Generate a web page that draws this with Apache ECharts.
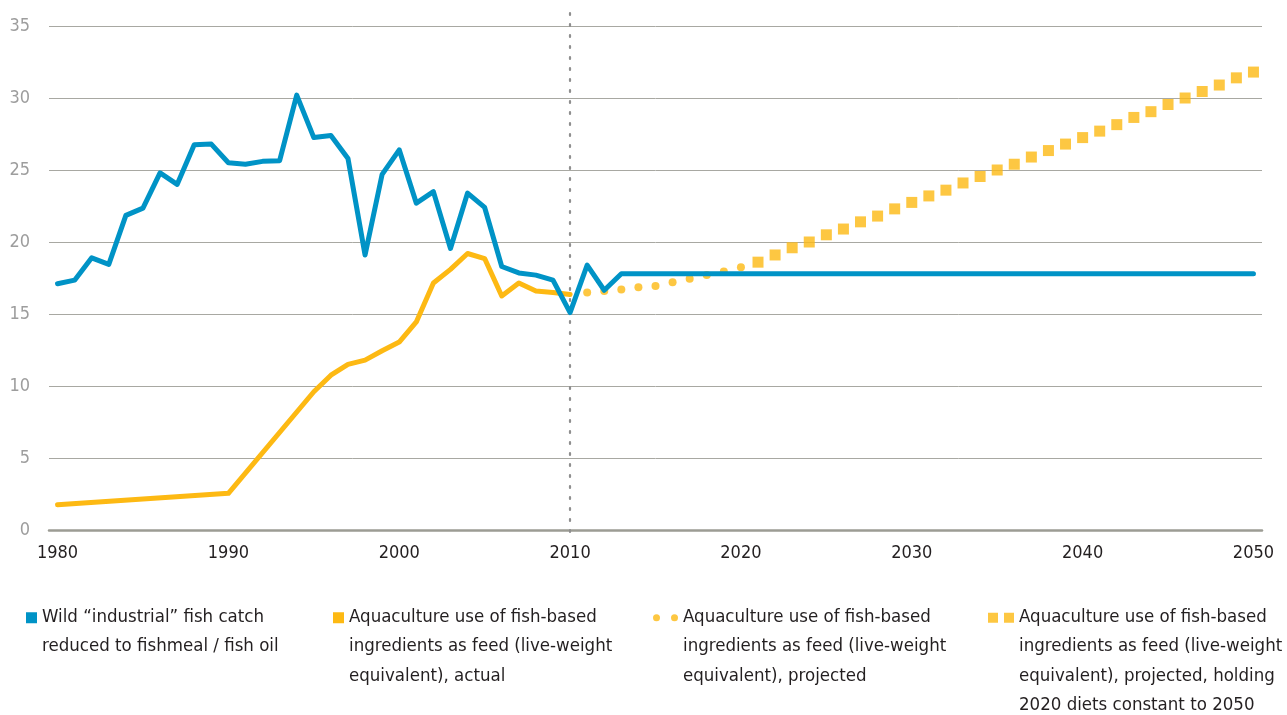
<!DOCTYPE html>
<html>
<head>
<meta charset="utf-8">
<script src="https://cdn.jsdelivr.net/npm/echarts@6/dist/echarts.min.js"></script>
<style>
  html, body { margin: 0; padding: 0; background: #ffffff; }
  #chart { width: 1287px; height: 715px; }
</style>
</head>
<body>
<div id="chart"></div>
<script>
// Category axis: one slot per year
const years = [];
for (let y = 1980; y <= 2050; y++) years.push(String(y));

// Wild "industrial" catch reduced to fishmeal / fish oil (million tonnes)
const catchYears = [1980, 1981, 1982, 1983, 1984, 1985, 1986, 1987, 1988, 1989,
  1990, 1991, 1992, 1993, 1994, 1995, 1996, 1997, 1998, 1999,
  2000, 2001, 2002, 2003, 2004, 2005, 2006, 2007, 2008, 2009,
  2010, 2011, 2012, 2013, 2050];
const catchValues = [17.1, 17.35, 18.9, 18.45, 21.85, 22.35, 24.8, 24.0, 26.75, 26.8,
  25.5, 25.4, 25.6, 25.65, 30.2, 27.25, 27.4, 25.8, 19.1, 24.7,
  26.4, 22.7, 23.5, 19.55, 23.4, 22.4, 18.3, 17.85, 17.7, 17.35,
  15.1, 18.4, 16.65, 17.8, 17.8];

// Aquaculture feed use, actual
const actualYears = [1980, 1990, 1995, 1996, 1997, 1998, 1999, 2000, 2001, 2002,
  2003, 2004, 2005, 2006, 2007, 2008, 2009, 2010];
const actualValues = [1.75, 2.55, 9.6, 10.75, 11.5, 11.8, 12.45, 13.05, 14.45, 17.15,
  18.1, 19.2, 18.85, 16.25, 17.15, 16.6, 16.5, 16.35];

// Aquaculture feed use, projected
const projectedYears = [2011, 2012, 2013, 2014, 2015, 2016, 2017, 2018, 2019, 2020];
const projectedValues = [16.5, 16.6, 16.7, 16.85, 16.95, 17.2, 17.45, 17.7, 17.95, 18.25];

// Aquaculture feed use, projected with 2020 diets held constant
const constantYears = [2021, 2022, 2023, 2024, 2025, 2026, 2027, 2028, 2029, 2030,
  2031, 2032, 2033, 2034, 2035, 2036, 2037, 2038, 2039, 2040,
  2041, 2042, 2043, 2044, 2045, 2046, 2047, 2048, 2049, 2050];
const constantValues = [18.6, 19.1, 19.6, 20.0, 20.5, 20.9, 21.4, 21.8, 22.3, 22.75,
  23.2, 23.6, 24.1, 24.55, 25.0, 25.4, 25.9, 26.35, 26.8, 27.25,
  27.7, 28.15, 28.65, 29.05, 29.55, 30.0, 30.45, 30.9, 31.4, 31.8];

const yTicks = [0, 5, 10, 15, 20, 25, 30, 35];
const divideYear = '2010';

// Series names and the wrapped lines shown in the legend
const names = [
  'Wild “industrial” fish catch reduced to fishmeal / fish oil',
  'Aquaculture use of fish-based ingredients as feed (live-weight equivalent), actual',
  'Aquaculture use of fish-based ingredients as feed (live-weight equivalent), projected',
  'Aquaculture use of fish-based ingredients as feed (live-weight equivalent), projected, holding 2020 diets constant to 2050'
];
const legendLines = [
  ['Wild “industrial” fish catch', 'reduced to fishmeal / fish oil'],
  ['Aquaculture use of fish-based', 'ingredients as feed (live-weight', 'equivalent), actual'],
  ['Aquaculture use of fish-based', 'ingredients as feed (live-weight', 'equivalent), projected'],
  ['Aquaculture use of fish-based', 'ingredients as feed (live-weight', 'equivalent), projected, holding', '2020 diets constant to 2050']
];

const BLUE = '#0093c6';
const GOLD = '#fdb913';
const FONT = "'Liberation Sans Narrow', 'DejaVu Sans Condensed', sans-serif";
const LH = 29.5;

const pairs = (xs, vs) => xs.map((x, i) => [String(x), vs[i]]);

// Legend keys: the icon box spans the whole text block so the key sits
// beside the first line; leading moveTo points set the box extent.
function keyBox(w, lines) {
  return 'M0,0 M' + w + ',' + (lines * LH) + ' ';
}
function squareKey(lines) {
  const t = LH / 2 - 5.5 + 1;
  return 'path://' + keyBox(11, lines) + 'M0,' + t + 'h11v11h-11z';
}
function dotsKey(lines) {
  const t = LH / 2 - 3.5 + 1;
  const dot = (cx) => 'M' + cx + ',' + t + 'a3.5,3.5 0 1,1 0,7a3.5,3.5 0 1,1 0,-7z ';
  return 'path://' + keyBox(25, lines) + dot(3.5) + dot(21.5);
}
function squaresKey(lines) {
  const t = LH / 2 - 5 + 1;
  return 'path://' + keyBox(26, lines) + 'M0,' + t + 'h10v10h-10z M16,' + t + 'h10v10h-10z';
}

function legendFor(i, left, icon, w, color) {
  const n = legendLines[i].length;
  return {
    data: [{ name: names[i], icon: icon, itemStyle: { color: color } }],
    left: left,
    top: 602,
    padding: 0,
    itemWidth: w,
    itemHeight: n * LH,
    itemGap: 0,
    selectedMode: false,
    formatter: () => legendLines[i].join('\n'),
    textStyle: {
      color: '#231f20',
      fontFamily: FONT,
      fontSize: 18.5,
      lineHeight: LH
    }
  };
}

const chart = echarts.init(document.getElementById('chart'));
chart.setOption({
  animation: false,
  backgroundColor: '#ffffff',
  grid: { left: 49, right: 25, top: 26, bottom: 185, containLabel: false },
  xAxis: {
    type: 'category',
    data: years,
    boundaryGap: true,
    axisLine: { show: true, lineStyle: { color: '#9c9c94', width: 2.5 } },
    axisTick: { show: false },
    axisLabel: {
      interval: 9,
      color: '#231f20',
      fontFamily: FONT,
      fontSize: 18,
      margin: 14
    },
    splitLine: { show: false }
  },
  yAxis: {
    type: 'value',
    min: yTicks[0],
    max: yTicks[yTicks.length - 1],
    interval: yTicks[1] - yTicks[0],
    axisLine: { show: false },
    axisTick: { show: false },
    axisLabel: {
      color: '#9d9d9d',
      fontFamily: FONT,
      fontSize: 18,
      margin: 19
    },
    splitLine: { show: true, lineStyle: { color: '#a8a8a2', width: 1 } }
  },
  legend: [
    legendFor(0, 26, squareKey(2), 11, BLUE),
    legendFor(1, 333, squareKey(3), 11, GOLD),
    legendFor(2, 653, dotsKey(3), 25, GOLD),
    legendFor(3, 988, squaresKey(4), 26, GOLD)
  ],
  series: [
    {
      name: names[1],
      type: 'line',
      data: pairs(actualYears, actualValues),
      showSymbol: false,
      symbol: 'none',
      lineStyle: { color: GOLD, width: 5, join: 'round', cap: 'round' },
      itemStyle: { color: GOLD },
      z: 2
    },
    {
      name: names[2],
      type: 'scatter',
      data: pairs(projectedYears, projectedValues),
      symbol: 'circle',
      symbolSize: 8,
      itemStyle: { color: GOLD },
      z: 2
    },
    {
      name: names[3],
      type: 'scatter',
      data: pairs(constantYears, constantValues),
      symbol: 'rect',
      symbolSize: 11,
      itemStyle: { color: GOLD },
      z: 2
    },
    {
      name: names[0],
      type: 'line',
      data: pairs(catchYears, catchValues),
      showSymbol: false,
      symbol: 'none',
      clip: false,
      lineStyle: { color: BLUE, width: 5, join: 'round', cap: 'round' },
      itemStyle: { color: BLUE },
      z: 3,
      markLine: {
        silent: true,
        symbol: 'none',
        label: { show: false },
        lineStyle: { color: '#8f8f8f', width: 2.2, type: [2, 9], cap: 'round' },
        data: [[{ xAxis: divideYear, y: 13 }, { xAxis: divideYear, y: 538 }]],
        z: 1
      }
    }
  ]
});
</script>
</body>
</html>
